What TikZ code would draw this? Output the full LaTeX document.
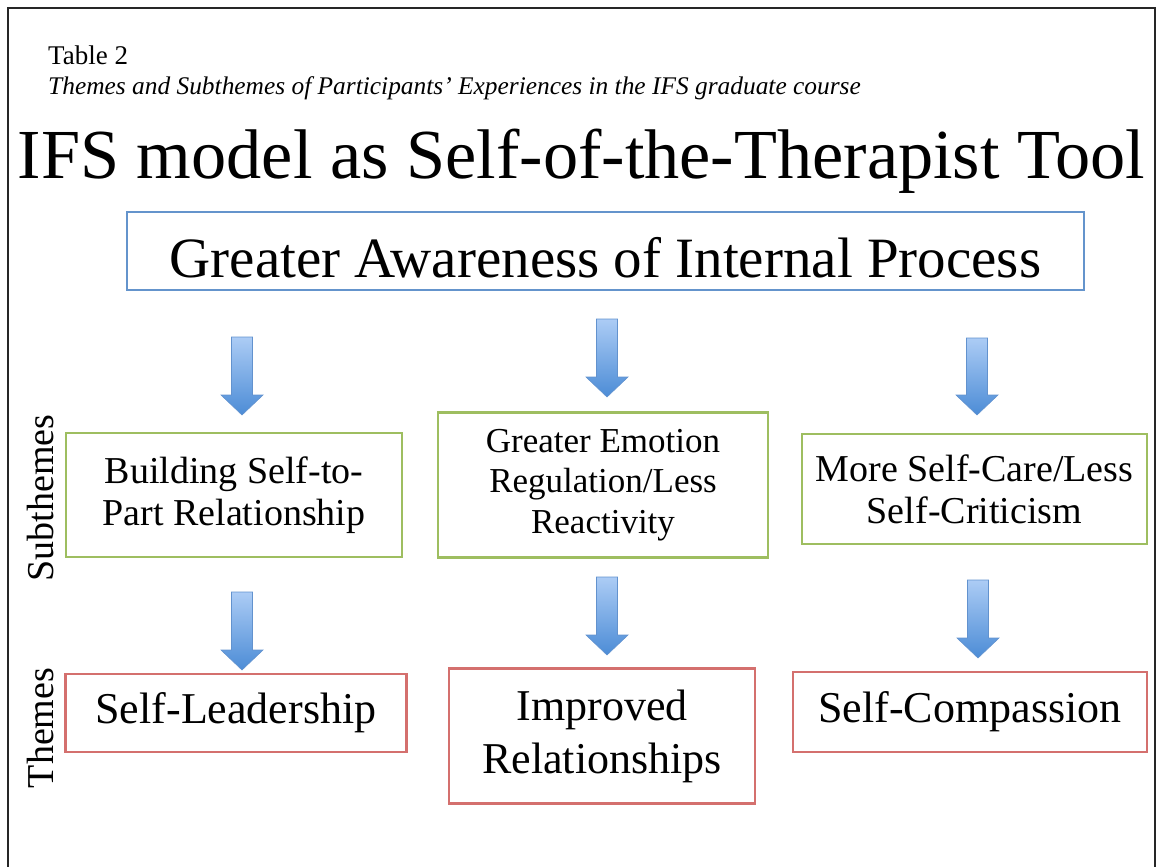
\documentclass[tikz,border=0pt]{standalone}
\usepackage{fontspec}
\setmainfont{Liberation Serif}
\usepackage{tikz}
\usetikzlibrary{calc}

\definecolor{boxblue}{RGB}{100,148,204}
\definecolor{boxgreen}{RGB}{158,190,96}
\definecolor{boxred}{RGB}{212,112,110}
\definecolor{arrowtop}{RGB}{172,204,245}
\definecolor{arrowbot}{RGB}{76,140,214}
\definecolor{arrowline}{RGB}{98,146,206}

\tikzset{
  framebox/.style={draw, line width=2.4pt, inner sep=0pt, align=center, fill=white},
  subtheme/.style={framebox, draw=boxgreen, font=\fontsize{38}{42}\selectfont},
  theme/.style={framebox, draw=boxred, font=\fontsize{44}{53}\selectfont},
  sidelabel/.style={rotate=90, anchor=base, inner sep=0pt, font=\fontsize{38}{40}\selectfont},
  blockarrow/.style={draw=arrowline, line width=0.6pt, top color=arrowtop, bottom color=arrowbot,
    to path={($(\tikztostart)+(-10.5,0)$) -- ($(\tikztostart)+(10.5,0)$)
      -- ($(\tikztotarget)+(10.5,-20)$) -- ($(\tikztotarget)+(21,-20)$)
      -- (\tikztotarget) -- ($(\tikztotarget)+(-21,-20)$)
      -- ($(\tikztotarget)+(-10.5,-20)$) -- cycle}}
}

\begin{document}
\begin{tikzpicture}[x=1pt, y=-1pt]
                  \useasboundingbox (0,0) rectangle (1160,867);

                  % Frame
                  \draw[line width=2.2pt, black!85] (8,867) -- (8,8) -- (1155,8) -- (1155,867);

                  % Heading
                  \node[anchor=base west, inner sep=0pt, font=\fontsize{27}{30}\selectfont] (tab) at (48,65) {Table 2};
                  \node[anchor=base west, inner sep=0pt, font=\fontsize{25.4}{28}\selectfont\itshape] (cap) at (48,95)
                    {Themes and Subthemes of Participants’ Experiences in the IFS graduate course};
                  \node[anchor=base, inner sep=0pt, font=\fontsize{70.3}{72}\selectfont] (title) at (581.5,178)
                    {IFS model as Self-of-the-Therapist Tool};

                  % Main box
                  \node[framebox, draw=boxblue, minimum width=957, minimum height=78,
                        text height=52pt, text depth=0pt,
                        font=\fontsize{57}{60}\selectfont] (aware) at (605.5,251) {Greater Awareness of Internal Process};

                  % Subthemes
                  \node[subtheme, minimum width=336, minimum height=124] (sub1) at (234,495)
                    {Building Self-to-\\Part Relationship};
                  \node[subtheme, minimum width=330, minimum height=145,
                        font=\fontsize{35}{40.5}\selectfont] (sub2) at (603,485)
                    {Greater Emotion\\Regulation/Less\\Reactivity};
                  \node[subtheme, minimum width=345, minimum height=110] (sub3) at (974.5,489)
                    {More Self-Care/Less\\Self-Criticism};

                  % Themes
                  \node[theme, minimum width=341, minimum height=78] (thm1) at (236,713) {Self-Leadership};
                  \node[theme, minimum width=306, minimum height=135] (thm2) at (602,736) {Improved\\Relationships};
                  \node[theme, minimum width=354, minimum height=80] (thm3) at (970,712) {Self-Compassion};

                  % Side labels
                  \node[sidelabel] (lsub) at (53,498) {Subthemes};
                  \node[sidelabel] (lthm) at (53,728) {Themes};

                  % Arrows
                  \coordinate (a1) at (242,337);  \coordinate (a1t) at (242,415);
                  \coordinate (a2) at (607,319);  \coordinate (a2t) at (607,397);
                  \coordinate (a3) at (977,338);  \coordinate (a3t) at (977,415);
                  \coordinate (b1) at (242,592);  \coordinate (b1t) at (242,670);
                  \coordinate (b2) at (607,577);  \coordinate (b2t) at (607,655);
                  \coordinate (b3) at (978,580);  \coordinate (b3t) at (978,658);
                  \foreach \p in {a1,a2,a3,b1,b2,b3}
                    \draw[blockarrow] (\p) to (\p t);

              \end{tikzpicture}
\end{document}
